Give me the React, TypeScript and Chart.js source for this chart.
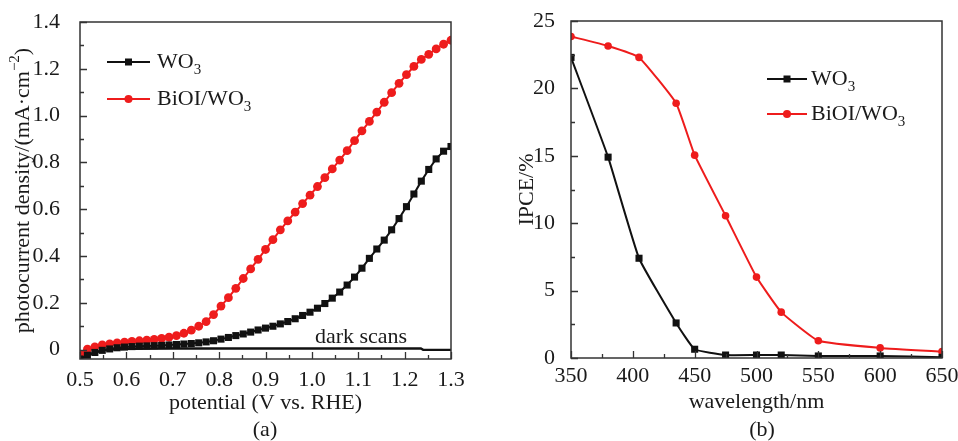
import React, { useEffect, useRef } from "react";
import { Chart, registerables } from "chart.js";

Chart.register(...registerables);

// ---------- Panel (a): photocurrent vs potential ----------
const potential = [
  0.5, 0.516, 0.532, 0.548, 0.564, 0.58, 0.596, 0.612, 0.628, 0.644,
  0.66, 0.676, 0.692, 0.708, 0.724, 0.74, 0.756, 0.772, 0.788, 0.804,
  0.82, 0.836, 0.852, 0.868, 0.884, 0.9, 0.916, 0.932, 0.948, 0.964,
  0.98, 0.996, 1.012, 1.028, 1.044, 1.06, 1.076, 1.092, 1.108, 1.124,
  1.14, 1.156, 1.172, 1.188, 1.204, 1.22, 1.236, 1.252, 1.268, 1.284, 1.3,
];
const wo3Current = [
  -0.04, -0.024, -0.012, -0.003, 0.003, 0.008, 0.011, 0.013, 0.015, 0.016,
  0.017, 0.018, 0.02, 0.022, 0.024, 0.026, 0.029, 0.033, 0.038, 0.045,
  0.052, 0.06, 0.067, 0.075, 0.084, 0.092, 0.1, 0.11, 0.12, 0.132,
  0.146, 0.16, 0.177, 0.197, 0.22, 0.246, 0.276, 0.31, 0.348, 0.39,
  0.43, 0.468, 0.512, 0.56, 0.611, 0.665, 0.72, 0.77, 0.815, 0.848, 0.868,
];
const bioiCurrent = [
  -0.02, 0.002, 0.012, 0.02, 0.025, 0.029, 0.032, 0.035, 0.038, 0.041,
  0.044, 0.048, 0.053, 0.06, 0.07, 0.083, 0.1, 0.12, 0.15, 0.186,
  0.222, 0.262, 0.304, 0.345, 0.386, 0.428, 0.47, 0.512, 0.55, 0.588,
  0.624, 0.66, 0.697, 0.735, 0.772, 0.81, 0.85, 0.893, 0.935, 0.975,
  1.015, 1.057, 1.098, 1.138, 1.175, 1.21, 1.24, 1.262, 1.285, 1.305, 1.322,
];
const darkPotential = [0.5, 0.52, 0.55, 0.6, 0.7, 0.8, 0.9, 1.0, 1.1, 1.2, 1.235, 1.24, 1.3];
const darkCurrent = [-0.04, -0.02, -0.002, 0.004, 0.005, 0.005, 0.005, 0.005, 0.005, 0.005, 0.005, -0.001, -0.001];
const potentialTicks = [0.5, 0.6, 0.7, 0.8, 0.9, 1.0, 1.1, 1.2, 1.3];
const currentTicks = [0, 0.2, 0.4, 0.6, 0.8, 1.0, 1.2, 1.4];

// ---------- Panel (b): IPCE vs wavelength ----------
const wavelength = [350, 380, 405, 435, 450, 475, 500, 520, 550, 600, 650];
const ipceWO3 = [22.3, 14.9, 7.4, 2.6, 0.65, 0.22, 0.22, 0.22, 0.15, 0.15, 0.05];
const ipceBiOI = [23.85, 23.15, 22.3, 18.9, 15.05, 10.55, 6.0, 3.4, 1.28, 0.75, 0.48];
const wavelengthTicks = [350, 400, 450, 500, 550, 600, 650];
const ipceTicks = [0, 5, 10, 15, 20, 25];

const FONT = '"Liberation Serif", "Times New Roman", serif';
const TEXT = "#1a1a1a";
const AXIS = "#333333";
const RED = "#ee1c1c";
const BLACK = "#111111";

const SUB: Record<string, string> = { "₀": "0", "₁": "1", "₂": "2", "₃": "3", "₄": "4" };

type Seg = { t: string; kind: "n" | "sub" | "sup" };
function parseRich(text: string): Seg[] {
  const segs: Seg[] = [];
  let i = 0;
  while (i < text.length) {
    const ch = text[i];
    if (SUB[ch]) {
      segs.push({ t: SUB[ch], kind: "sub" });
      i++;
    } else if (ch === "⁻" || ch === "²") {
      let s = "";
      while (i < text.length && (text[i] === "⁻" || text[i] === "²")) {
        s += text[i] === "⁻" ? "−" : "2";
        i++;
      }
      segs.push({ t: s, kind: "sup" });
    } else {
      let s = "";
      while (i < text.length && !SUB[text[i]] && text[i] !== "⁻" && text[i] !== "²") {
        s += text[i];
        i++;
      }
      segs.push({ t: s, kind: "n" });
    }
  }
  return segs;
}

function drawRich(ctx: CanvasRenderingContext2D, text: string, x: number, y: number, size: number, align: "left" | "center") {
  const segs = parseRich(text);
  const small = Math.round(size * 0.66);
  const widthOf = (s: Seg) => {
    ctx.font = `${s.kind === "n" ? size : small}px ${FONT}`;
    return ctx.measureText(s.t).width;
  };
  const total = segs.reduce((a, s) => a + widthOf(s), 0);
  let cx = align === "center" ? x - total / 2 : x;
  ctx.textAlign = "left";
  ctx.textBaseline = "middle";
  for (const s of segs) {
    ctx.font = `${s.kind === "n" ? size : small}px ${FONT}`;
    const dy = s.kind === "sub" ? size * 0.36 : s.kind === "sup" ? -size * 0.38 : 0;
    ctx.fillText(s.t, cx, y + dy);
    cx += ctx.measureText(s.t).width;
  }
}

const framePlugin = {
  id: "frame",
  afterDraw(chart: any, _args: any, opts: any) {
    const { ctx, chartArea: a, scales } = chart;
    ctx.save();
    // frame
    ctx.strokeStyle = AXIS;
    ctx.lineWidth = 1.5;
    ctx.strokeRect(a.left, a.top, a.right - a.left, a.bottom - a.top);
    // inward ticks
    const xs = scales.x;
    const ys = scales.y;
    const drawTicks = (scale: any, horizontal: boolean) => {
      const vals: number[] = scale.ticks.map((t: any) => t.value);
      const minors: number[] = [];
      for (let i = 0; i < vals.length - 1; i++) minors.push((vals[i] + vals[i + 1]) / 2);
      ctx.lineWidth = 1.3;
      ctx.beginPath();
      for (const v of vals) {
        const p = Math.round(scale.getPixelForValue(v)) + 0.5;
        if (horizontal) {
          ctx.moveTo(p, a.bottom);
          ctx.lineTo(p, a.bottom - 7);
        } else {
          ctx.moveTo(a.left, p);
          ctx.lineTo(a.left + 7, p);
        }
      }
      for (const v of minors) {
        const p = Math.round(scale.getPixelForValue(v)) + 0.5;
        if (horizontal) {
          ctx.moveTo(p, a.bottom);
          ctx.lineTo(p, a.bottom - 4);
        } else {
          ctx.moveTo(a.left, p);
          ctx.lineTo(a.left + 4, p);
        }
      }
      ctx.stroke();
    };
    drawTicks(xs, true);
    drawTicks(ys, false);

    ctx.fillStyle = TEXT;
    // axis titles
    const cxm = (a.left + a.right) / 2;
    drawRich(ctx, opts.xTitle, cxm, a.bottom + opts.xTitleOffset, 22, "center");
    drawRich(ctx, opts.panel, opts.panelX, opts.panelY, 22, "center");
    ctx.save();
    ctx.translate(opts.yTitleX, (a.top + a.bottom) / 2);
    ctx.rotate(-Math.PI / 2);
    drawRich(ctx, opts.yTitle, 0, 0, 22, "center");
    ctx.restore();

    // notes (placed in data coordinates)
    for (const n of opts.notes || []) {
      ctx.fillStyle = TEXT;
      drawRich(ctx, n.text, xs.getPixelForValue(n.x), ys.getPixelForValue(n.y), 22, "center");
    }

    // legend
    const lg = opts.legend;
    let row = 0;
    chart.data.datasets.forEach((ds: any) => {
      if (ds.inLegend === false) return;
      const y = lg.y + row * lg.dy;
      row++;
      ctx.strokeStyle = ds.borderColor;
      ctx.lineWidth = 2.2;
      ctx.beginPath();
      ctx.moveTo(lg.x, y);
      ctx.lineTo(lg.x + lg.len, y);
      ctx.stroke();
      const mx = lg.x + lg.len / 2;
      ctx.fillStyle = ds.pointBackgroundColor;
      if (ds.pointStyle === "rect") {
        ctx.fillRect(mx - 3.5, y - 3.5, 7, 7);
      } else {
        ctx.beginPath();
        ctx.arc(mx, y, 4, 0, Math.PI * 2);
        ctx.fill();
      }
      ctx.fillStyle = TEXT;
      drawRich(ctx, ds.label, lg.x + lg.len + lg.gap, y, 22, "left");
    });
    ctx.restore();
  },
};

function fixedAxis(size: number, horizontal: boolean) {
  return (scale: any) => {
    if (horizontal) {
      scale.height = size;
      scale.paddingLeft = 0;
      scale.paddingRight = 0;
    } else {
      scale.width = size;
      scale.paddingTop = 0;
      scale.paddingBottom = 0;
    }
  };
}

function tickFont() {
  return { family: FONT, size: 22 };
}

function makeLeftConfig(): any {
  return {
    type: "line",
    data: {
      datasets: [
        {
          label: "WO₃",
          data: potential.map((x, i) => ({ x, y: wo3Current[i] })),
          borderColor: BLACK,
          backgroundColor: BLACK,
          pointBackgroundColor: BLACK,
          pointBorderColor: BLACK,
          borderWidth: 2,
          pointStyle: "rect",
          pointRadius: 5,
          pointBorderWidth: 0,
        },
        {
          label: "BiOI/WO₃",
          data: potential.map((x, i) => ({ x, y: bioiCurrent[i] })),
          borderColor: RED,
          backgroundColor: RED,
          pointBackgroundColor: RED,
          pointBorderColor: RED,
          borderWidth: 2,
          pointStyle: "circle",
          pointRadius: 4.4,
          pointBorderWidth: 0,
        },
        {
          label: "dark scans",
          inLegend: false,
          data: darkPotential.map((x, i) => ({ x, y: darkCurrent[i] })),
          borderColor: BLACK,
          borderWidth: 2.4,
          pointRadius: 0,
        },
      ],
    },
    options: {
      responsive: false,
      animation: false,
      devicePixelRatio: 1,
      layout: { padding: { left: 0, right: 28, top: 22, bottom: 0 } },
      plugins: {
        legend: { display: false },
        tooltip: { enabled: false },
        frame: {
          xTitle: "potential (V vs. RHE)",
          xTitleOffset: 44,
          yTitle: "photocurrent density/(mA·cm⁻²)",
          yTitleX: 23,
          panel: "(a)",
          panelX: 265,
          panelY: 430,
          notes: [{ text: "dark scans", x: 1.106, y: 0.053 }],
          legend: { x: 107, y: 62, dy: 37, len: 43, gap: 7 },
        },
      },
      scales: {
        x: {
          type: "linear",
          min: 0.5,
          max: 1.3,
          afterBuildTicks: (s: any) => {
            s.ticks = potentialTicks.map((v) => ({ value: v }));
          },
          afterFit: fixedAxis(82, true),
          grid: { display: false },
          border: { display: false },
          ticks: {
            font: tickFont(),
            color: TEXT,
            padding: 0,
            maxRotation: 0,
            autoSkip: false,
            callback: (v: number) => v.toFixed(1),
          },
        },
        y: {
          type: "linear",
          min: -0.04,
          max: 1.4,
          afterBuildTicks: (s: any) => {
            s.ticks = currentTicks.map((v) => ({ value: v }));
          },
          afterFit: fixedAxis(80, false),
          grid: { display: false },
          border: { display: false },
          ticks: {
            font: tickFont(),
            color: TEXT,
            padding: 12,
            autoSkip: false,
            callback: (v: number) => (v === 0 ? "0" : v.toFixed(1)),
          },
        },
      },
    },
    plugins: [framePlugin],
  };
}

function makeRightConfig(): any {
  return {
    type: "line",
    data: {
      datasets: [
        {
          label: "WO₃",
          data: wavelength.map((x, i) => ({ x, y: ipceWO3[i] })),
          borderColor: BLACK,
          backgroundColor: BLACK,
          pointBackgroundColor: BLACK,
          pointBorderColor: BLACK,
          borderWidth: 2,
          pointStyle: "rect",
          pointRadius: 5,
          pointBorderWidth: 0,
          tension: 0.12,
        },
        {
          label: "BiOI/WO₃",
          data: wavelength.map((x, i) => ({ x, y: ipceBiOI[i] })),
          borderColor: RED,
          backgroundColor: RED,
          pointBackgroundColor: RED,
          pointBorderColor: RED,
          borderWidth: 2,
          pointStyle: "circle",
          pointRadius: 3.8,
          pointBorderWidth: 0,
          tension: 0.12,
        },
      ],
    },
    options: {
      responsive: false,
      animation: false,
      devicePixelRatio: 1,
      layout: { padding: { left: 0, right: 16, top: 21, bottom: 0 } },
      plugins: {
        legend: { display: false },
        tooltip: { enabled: false },
        frame: {
          xTitle: "wavelength/nm",
          xTitleOffset: 44,
          yTitle: "IPCE/%",
          yTitleX: 48,
          panel: "(b)",
          panelX: 283,
          panelY: 430,
          notes: [],
          legend: { x: 288, y: 79, dy: 35, len: 40, gap: 4 },
        },
      },
      scales: {
        x: {
          type: "linear",
          min: 350,
          max: 650,
          afterBuildTicks: (s: any) => {
            s.ticks = wavelengthTicks.map((v) => ({ value: v }));
          },
          afterFit: fixedAxis(83, true),
          grid: { display: false },
          border: { display: false },
          ticks: {
            font: tickFont(),
            color: TEXT,
            padding: -3,
            maxRotation: 0,
            autoSkip: false,
            callback: (v: number) => String(v),
          },
        },
        y: {
          type: "linear",
          min: 0,
          max: 25,
          afterBuildTicks: (s: any) => {
            s.ticks = ipceTicks.map((v) => ({ value: v }));
          },
          afterFit: fixedAxis(92, false),
          grid: { display: false },
          border: { display: false },
          ticks: {
            font: tickFont(),
            color: TEXT,
            padding: 8,
            autoSkip: false,
            callback: (v: number) => String(v),
          },
        },
      },
    },
    plugins: [framePlugin],
  };
}

function ChartCanvas({ makeConfig, left }: { makeConfig: () => any; left: number }) {
  const ref = useRef<HTMLCanvasElement | null>(null);
  useEffect(() => {
    if (!ref.current) return;
    const chart = new Chart(ref.current, makeConfig());
    return () => chart.destroy();
  }, [makeConfig]);
  return (
    <canvas
      ref={ref}
      width={479}
      height={441}
      style={{ position: "absolute", left, top: 0, width: 479, height: 441 }}
    />
  );
}

export default function App() {
  return (
    <div
      style={{
        position: "fixed",
        left: 0,
        top: 0,
        width: 958,
        height: 441,
        background: "#ffffff",
        overflow: "hidden",
      }}
    >
      <ChartCanvas makeConfig={makeLeftConfig} left={0} />
      <ChartCanvas makeConfig={makeRightConfig} left={479} />
    </div>
  );
}
